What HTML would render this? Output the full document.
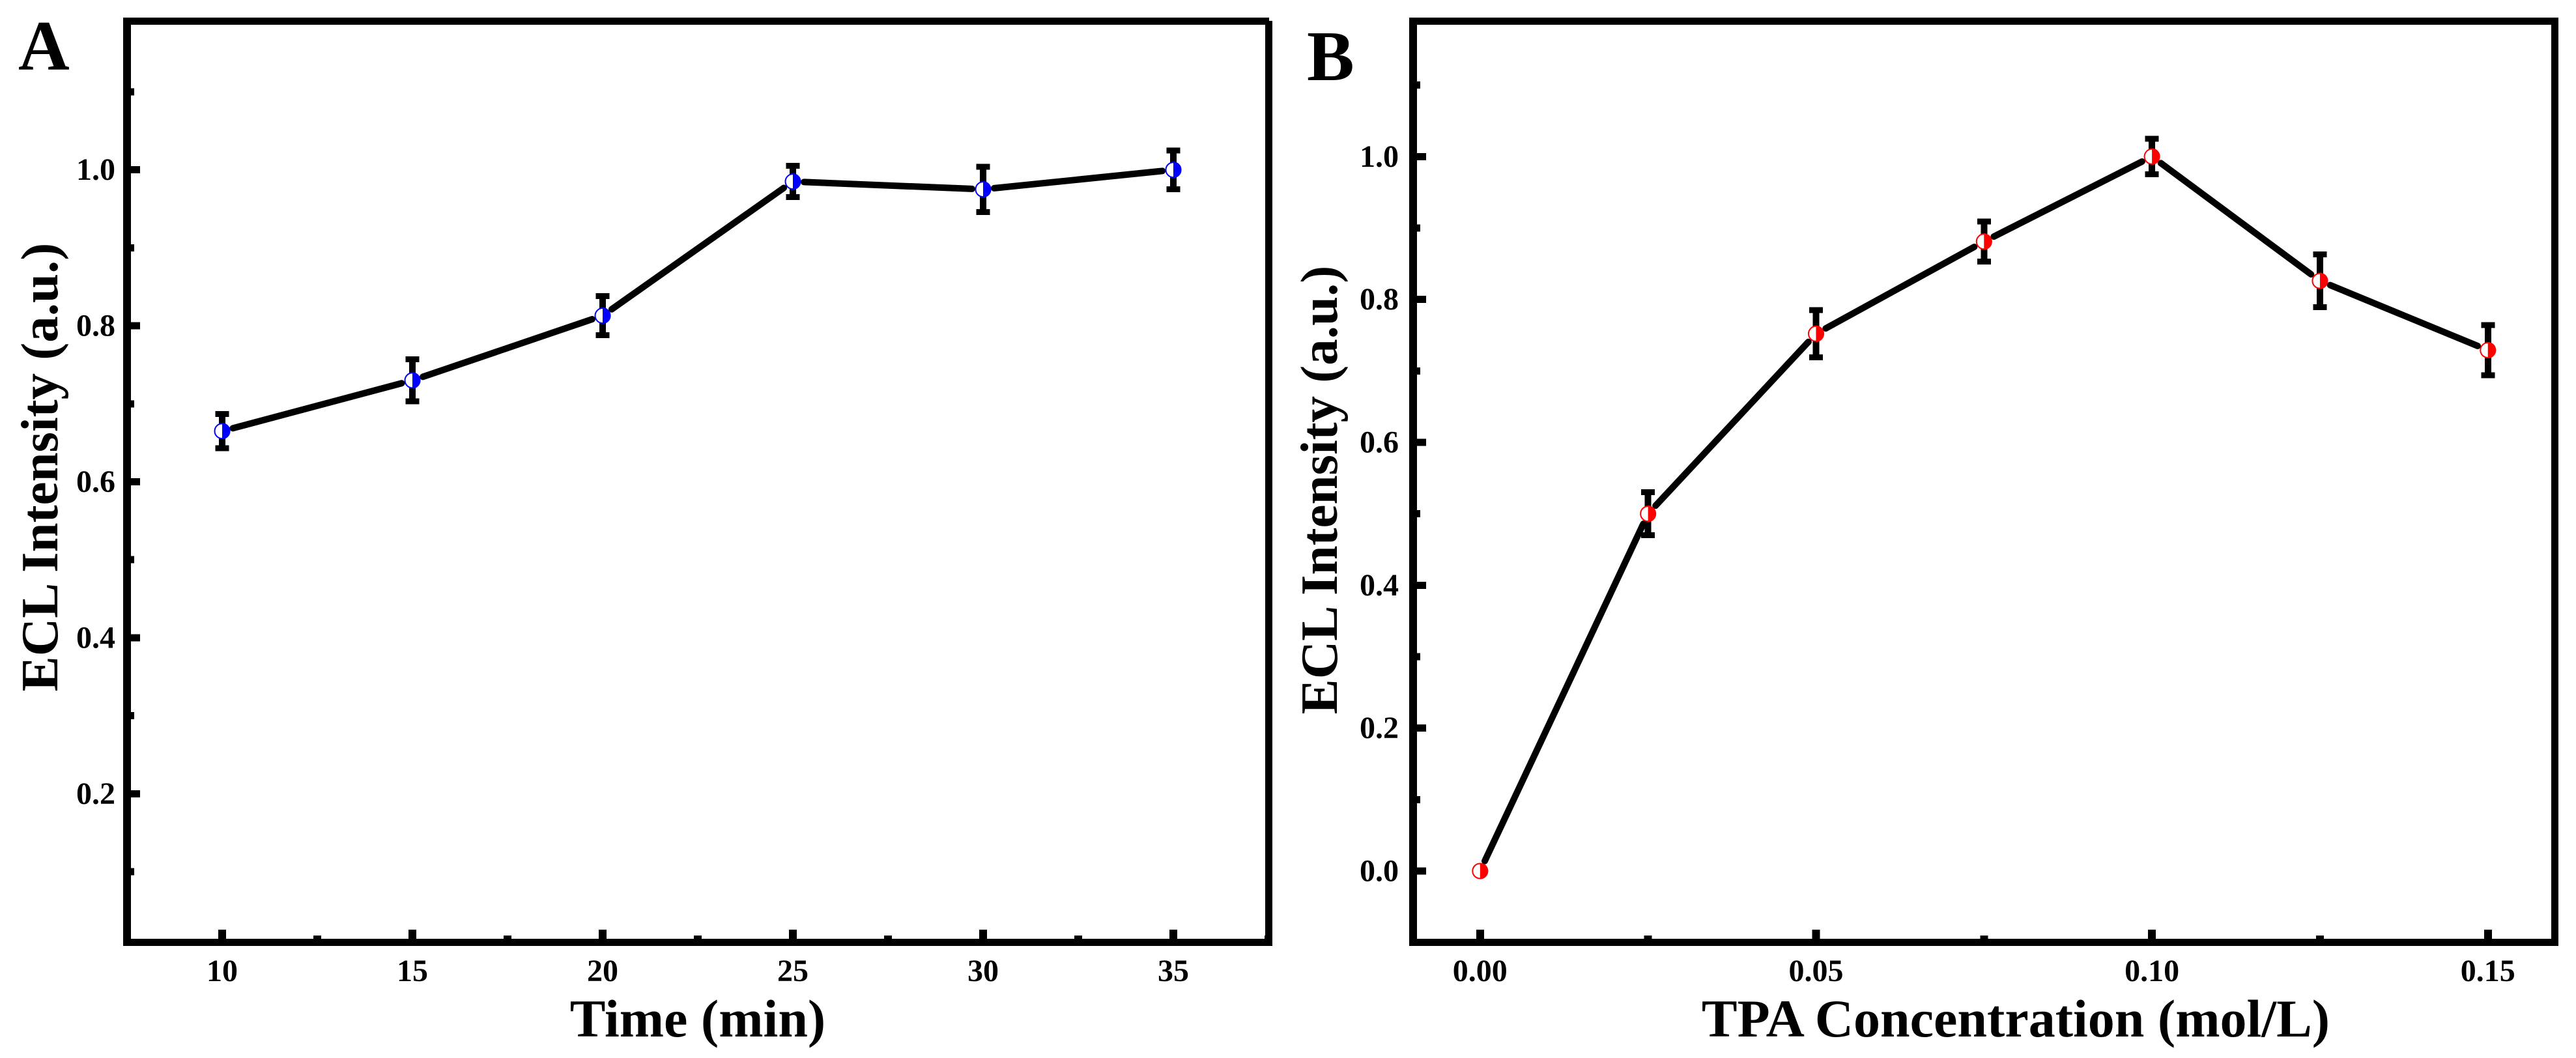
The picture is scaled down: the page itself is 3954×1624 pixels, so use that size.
<!DOCTYPE html>
<html lang="en">
<head>
<meta charset="utf-8">
<title>ECL Intensity Charts</title>
<style>
html,body{margin:0;padding:0;background:#fff;}
#figure{display:block;width:3954px;height:1624px;}
text{font-family:"Liberation Serif",serif;font-weight:bold;fill:#000;}
</style>
</head>
<body>
<svg id="figure" xmlns="http://www.w3.org/2000/svg" width="3954" height="1624" viewBox="0 0 3954 1624"></svg>
<script>
/* Panel A data */
const timeCategories = [10, 15, 20, 25, 30, 35];
const timeIntensity = [0.665, 0.730, 0.813, 0.985, 0.975, 1.000];
const timeError = [0.022, 0.027, 0.025, 0.020, 0.029, 0.025];
const timeXMajorTicks = [10, 15, 20, 25, 30, 35];
const timeXMinorTicks = [12.5, 17.5, 22.5, 27.5, 32.5, 37.5];
const timeXTickLabels = ["10", "15", "20", "25", "30", "35"];
const timeYMajorTicks = [0.2, 0.4, 0.6, 0.8, 1.0];
const timeYMinorTicks = [0.1, 0.3, 0.5, 0.7, 0.9, 1.1];
const timeYTickLabels = ["0.2", "0.4", "0.6", "0.8", "1.0"];

/* Panel B data */
const tpaCategories = [0, 0.025, 0.05, 0.075, 0.1, 0.125, 0.15];
const tpaIntensity = [0.000, 0.500, 0.752, 0.881, 1.000, 0.826, 0.729];
const tpaError = [0, 0.030, 0.033, 0.028, 0.025, 0.037, 0.035];
const tpaXMajorTicks = [0, 0.05, 0.1, 0.15];
const tpaXMinorTicks = [0.025, 0.075, 0.125];
const tpaXTickLabels = ["0.00", "0.05", "0.10", "0.15"];
const tpaYMajorTicks = [0, 0.2, 0.4, 0.6, 0.8, 1.0];
const tpaYMinorTicks = [0.1, 0.3, 0.5, 0.7, 0.9, 1.1];
const tpaYTickLabels = ["0.0", "0.2", "0.4", "0.6", "0.8", "1.0"];

const NS = "http://www.w3.org/2000/svg";
const root = document.getElementById("figure");

function make(parent, tag, attrs, txt) {
  const el = document.createElementNS(NS, tag);
  for (const k in attrs) el.setAttribute(k, attrs[k]);
  if (txt !== undefined) el.textContent = txt;
  parent.appendChild(el);
  return el;
}
function rect(parent, x0, y0, x1, y1, fill) {
  return make(parent, "rect", {x: x0, y: y0, width: x1 - x0, height: y1 - y0, fill: fill || "#000", "shape-rendering": "crispEdges"});
}

function drawPanel(p) {
  const group = make(root, "g", {});
  
  

  const X = p.xScale, Y = p.yScale;

  /* ticks */
  p.xMajor.forEach(function (v) {
    const t = rect(group, X(v) - 6, p.top0Bottom - 14, X(v) + 6, p.top0Bottom);
    
    
  });
  p.xMinor.forEach(function (v) {
    const t = rect(group, X(v) - 6, p.top0Bottom - 5, X(v) + 6, p.top0Bottom);
    
    
  });
  p.yMajor.forEach(function (v) {
    const t = rect(group, p.left1, Y(v) - 5.5, p.left1 + 14, Y(v) + 5.5);
    
    
  });
  p.yMinor.forEach(function (v) {
    const t = rect(group, p.left1, Y(v) - 5.5, p.left1 + 5, Y(v) + 5.5);
    
    
  });

  /* tick labels */
  p.xMajor.forEach(function (v, i) {
    const t = make(group, "text", {x: X(v), y: 1506, "text-anchor": "middle", "font-size": 48}, p.xLabels[i]);
    
    
  });
  p.yMajor.forEach(function (v, i) {
    const t = make(group, "text", {x: p.yLabelRight, y: Y(v) + 15.5, "text-anchor": "end", "font-size": 48}, p.yLabels[i]);
    
    
  });

  /* data line with gaps at the markers */
  for (let i = 0; i < p.cats.length - 1; i++) {
    const x0 = X(p.cats[i]), y0 = Y(p.vals[i]), x1 = X(p.cats[i + 1]), y1 = Y(p.vals[i + 1]);
    const len = Math.hypot(x1 - x0, y1 - y0), ux = (x1 - x0) / len, uy = (y1 - y0) / len, gap = 17;
    const seg = make(group, "line", {x1: x0 + ux * gap, y1: y0 + uy * gap, x2: x1 - ux * gap, y2: y1 - uy * gap, stroke: "#000", "stroke-width": 10, "stroke-linecap": "round"});
    
    
  }

  /* error bars */
  p.cats.forEach(function (c, i) {
    if (p.errs[i] <= 0) return;
    const x = X(c), top = Y(p.vals[i] + p.errs[i]), bot = Y(p.vals[i] - p.errs[i]);
    const eg = make(group, "g", {});
    
    
    rect(eg, x - 5, top, x + 5, bot);
    rect(eg, x - 10.5, top - 4.5, x + 10.5, top + 4.5);
    rect(eg, x - 10.5, bot - 4.5, x + 10.5, bot + 4.5);
  });

  /* half-filled markers */
  p.cats.forEach(function (c, i) {
    const x = X(c), y = Y(p.vals[i]), r = 11.5;
    const mg = make(group, "g", {});
    
    
    make(mg, "circle", {cx: x, cy: y, r: r, fill: "#fff", stroke: p.color, "stroke-width": 2});
    make(mg, "path", {d: "M" + x + " " + (y - r - 1) + "A" + (r + 1) + " " + (r + 1) + " 0 0 1 " + x + " " + (y + r + 1) + "Z", fill: p.color});
  });

  /* frame */
  const frame = make(group, "g", {});
  
  
  rect(frame, p.left0, 27, p.topEnd, 38);
  rect(frame, p.left0, 27, p.left1, 1452);
  rect(frame, p.left0, 1441, p.right1, 1452);
  rect(frame, p.right0, 32, p.right1, 1452);

  /* titles */
  const xt = make(group, "text", {x: p.xTitleX, y: 1591, "text-anchor": "middle", "font-size": 82}, p.xTitle);
  
  
  const yt = make(group, "text", {transform: "translate(" + p.yTitleX + " " + p.yTitleY + ") rotate(-90)", "text-anchor": "middle", "font-size": 81}, "ECL Intensity (a.u.)");
  
  
  const pl = make(group, "text", {x: p.letterX, y: p.letterY, "font-size": 109}, p.letter);
  
  
}

drawPanel({
  id: "time", letter: "A", letterX: 28, letterY: 107,
  cats: timeCategories, vals: timeIntensity, errs: timeError,
  xMajor: timeXMajorTicks, xMinor: timeXMinorTicks, xLabels: timeXTickLabels,
  yMajor: timeYMajorTicks, yMinor: timeYMinorTicks, yLabels: timeYTickLabels,
  xScale: function (v) { return 341 + (v - 10) * 58.4; },
  yScale: function (v) { return 260.7 + (1 - v) * 1197; },
  color: "#0000ff",
  left0: 189, left1: 201, right0: 1942, right1: 1953, topEnd: 1948, top0Bottom: 1441,
  yLabelRight: 177, xTitle: "Time (min)", xTitleX: 1071, yTitleX: 88, yTitleY: 717
});

drawPanel({
  id: "tpa", letter: "B", letterX: 2006, letterY: 123,
  cats: tpaCategories, vals: tpaIntensity, errs: tpaError,
  xMajor: tpaXMajorTicks, xMinor: tpaXMinorTicks, xLabels: tpaXTickLabels,
  yMajor: tpaYMajorTicks, yMinor: tpaYMinorTicks, yLabels: tpaYTickLabels,
  xScale: function (v) { return 2271.8 + v * 10313; },
  yScale: function (v) { return 240.3 + (1 - v) * 1096.7; },
  color: "#ff0000",
  left0: 2163, left1: 2175, right0: 3916, right1: 3927, topEnd: 3927, top0Bottom: 1441,
  yLabelRight: 2147, xTitle: "TPA Concentration (mol/L)", xTitleX: 3094, yTitleX: 2052, yTitleY: 752
});
</script>
</body>
</html>
